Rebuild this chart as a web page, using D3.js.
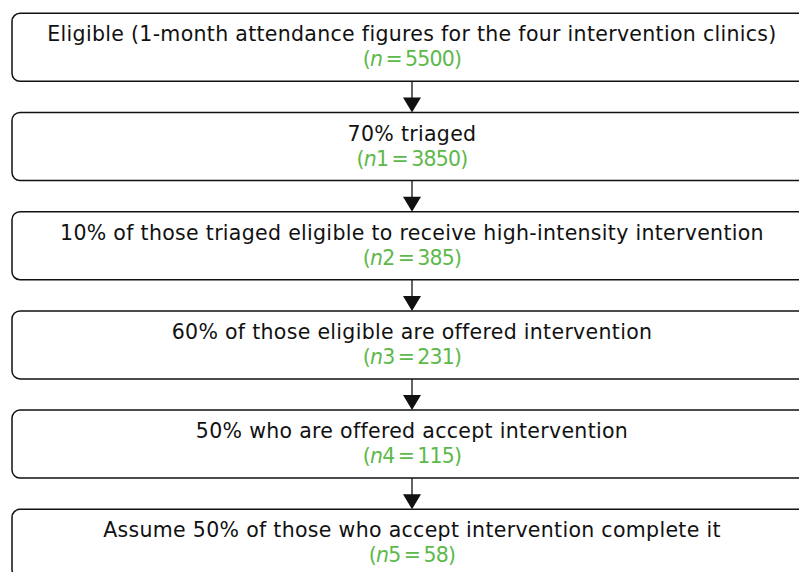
<!DOCTYPE html>
<html>
<head>
<meta charset="utf-8">
<script src="https://cdn.jsdelivr.net/npm/d3@7"></script>
<style>
  html, body { margin: 0; padding: 0; background: #fff; overflow: hidden; }
  svg { display: block; }
</style>
</head>
<body>
<svg width="799" height="572"></svg>
<script>
// Data
var steps = [
  "Eligible (1-month attendance figures for the four intervention clinics)",
  "70% triaged",
  "10% of those triaged eligible to receive high-intensity intervention",
  "60% of those eligible are offered intervention",
  "50% who are offered accept intervention",
  "Assume 50% of those who accept intervention complete it"
];
var nNames = ["", "1", "2", "3", "4", "5"];
var nValues = [5500, 3850, 385, 231, 115, 58];

var data = steps.map(function(s, i) {
  return {i: i, label: s, sub: nNames[i], n: nValues[i]};
});

var boxX = 12, boxW = 800, boxH = 68;
var cx = boxX + boxW / 2;
var green = "#5db94a";
var font = "'DejaVu Sans', sans-serif";
var fs = 20.5;

var y = d3.scaleLinear().domain([0, 1]).range([13.3, 112.5]);

var svg = d3.select("svg");

// arrows between boxes
var arrows = svg.append("g").attr("id", "arrows");
data.slice(0, -1).forEach(function(d) {
  var y0 = y(d.i) + boxH, y1 = y(d.i + 1);
  arrows.append("line")
    .attr("x1", cx).attr("x2", cx)
    .attr("y1", y0).attr("y2", y1 - 12)
    .attr("stroke", "#111").attr("stroke-width", 1.3);
  arrows.append("path")
    .attr("d", "M" + (cx - 9) + "," + (y1 - 15) + "L" + (cx + 9) + "," + (y1 - 15) + "L" + cx + "," + y1 + "Z")
    .attr("fill", "#111");
});

var boxes = svg.append("g").attr("id", "boxes")
  .selectAll("g").data(data).enter().append("g")
  .attr("transform", d => "translate(0," + y(d.i) + ")");

boxes.append("rect")
  .attr("x", boxX).attr("y", 0)
  .attr("width", boxW).attr("height", boxH)
  .attr("rx", 8).attr("ry", 8)
  .attr("fill", "#fff")
  .attr("stroke", "#111")
  .attr("stroke-width", 1.5);

var line1 = boxes.append("text")
  .attr("x", cx).attr("y", 28)
  .attr("text-anchor", "middle")
  .attr("font-family", font)
  .attr("font-size", fs + "px")
  .attr("fill", "#111")
  .text(d => d.label);

// adjust tracking so the widest line spans the reference width
var w0 = line1.node().getComputedTextLength();
var ls = (729 - w0) / (steps[0].length - 1);
line1.attr("letter-spacing", ls + "px");

var line2 = boxes.append("text")
  .attr("x", cx).attr("y", 53)
  .attr("text-anchor", "middle")
  .attr("font-family", font)
  .attr("font-size", fs + "px")
  .attr("letter-spacing", "-0.8px")
  .attr("fill", green);

line2.append("tspan").text("(");
line2.append("tspan").attr("font-style", "italic").text("n");
line2.append("tspan").text(d => d.sub + "\u2009=\u2009" + d.n + ")");
</script>
</body>
</html>
